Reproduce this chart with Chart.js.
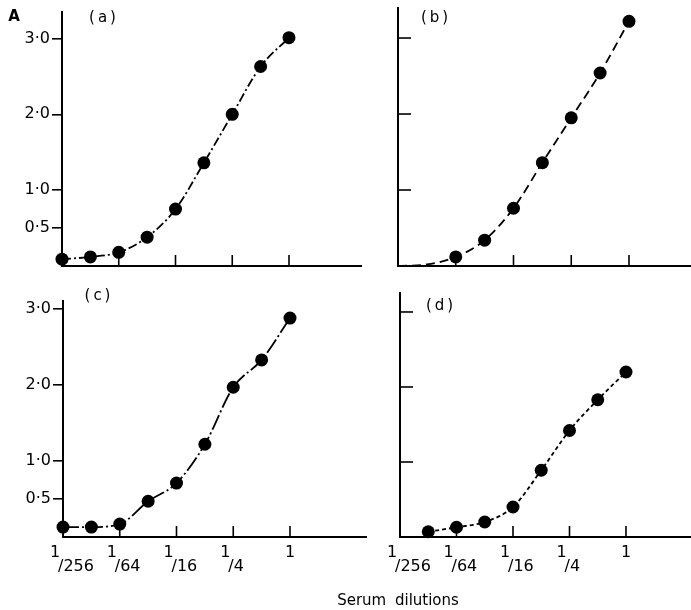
<!DOCTYPE html>
<html>
<head>
<meta charset="utf-8">
<script src="https://cdn.jsdelivr.net/npm/chart.js@4.4.1/dist/chart.umd.min.js"></script>
<style>
  html, body { margin:0; padding:0; background:#fff; }
  body { width:691px; height:610px; position:relative; overflow:hidden; font-family:"DejaVu Sans", sans-serif; color:#000; }
  canvas { position:absolute; }
  .lbl { position:absolute; font-size:15px; line-height:1; white-space:nowrap; transform:translate(-50%,-50%); }
</style>
</head>
<body>
<canvas id="pa" width="362" height="300" style="left:0;top:0"></canvas>
<canvas id="pb" width="346" height="300" style="left:345px;top:0"></canvas>
<canvas id="pc" width="367" height="310" style="left:0;top:280px"></canvas>
<canvas id="pd" width="346" height="310" style="left:345px;top:280px"></canvas>
<div class="lbl" style="left:14px;top:16px;font-weight:bold">A</div>
<div class="lbl" style="left:104px;top:17px;letter-spacing:3px">(a)</div>
<div class="lbl" style="left:436px;top:17px;letter-spacing:3px">(b)</div>
<div class="lbl" style="left:99px;top:295px;letter-spacing:3px">(c)</div>
<div class="lbl" style="left:441px;top:305px;letter-spacing:3px">(d)</div>
<div class="lbl" style="left:398px;top:600px;font-size:15px;word-spacing:4px">Serum dilutions</div>
<script>
// ---- data ----
const dilutions   = [1/256, 1/128, 1/64, 1/32, 1/16, 1/8, 1/4, 1/2, 1];
const xTickValues = [1/256, 1/64, 1/16, 1/4, 1];
const xTickLabels = ['1/256', '1/64', '1/16', '1/4', '1'];
const yTickValues = [0.5, 1, 2, 3];
const yTickLabels = ['0·5', '1·0', '2·0', '3·0'];
const yInnerTicks = [1, 2, 3];

const seriesA = [0.09, 0.12, 0.18, 0.38, 0.75, 1.36, 2.00, 2.63, 3.01];
const seriesB = [0.00, 0.02, 0.12, 0.34, 0.76, 1.36, 1.95, 2.54, 3.22];
const seriesC = [0.13, 0.13, 0.17, 0.47, 0.71, 1.22, 1.97, 2.33, 2.88];
const seriesD = [null, 0.07, 0.13, 0.20, 0.40, 0.89, 1.42, 1.83, 2.20];
// which values are plotted as dots (others only continue the curve)
const markedA = [true, true, true, true, true, true, true, true, true];
const markedB = [false, false, true, true, true, true, true, true, true];
const markedC = [true, true, true, true, true, true, true, true, true];
const markedD = [false, true, true, true, true, true, true, true, true];

const FONT = '"DejaVu Sans", sans-serif';

const inwardTicks = {
  id: 'inwardTicks',
  beforeDatasetsDraw(chart, args, opts) {
    const {ctx, scales: {x, y}} = chart;
    ctx.save();
    ctx.strokeStyle = '#000';
    ctx.lineWidth = 1.6;
    (opts.x || []).forEach(v => {
      const px = x.getPixelForValue(v);
      ctx.beginPath(); ctx.moveTo(px, y.bottom); ctx.lineTo(px, y.bottom - opts.xLen); ctx.stroke();
    });
    (opts.y || []).forEach(v => {
      const py = y.getPixelForValue(v);
      ctx.beginPath(); ctx.moveTo(x.left, py); ctx.lineTo(x.left + opts.yLen, py); ctx.stroke();
    });
    ctx.restore();
  }
};

function splitLabel(s) {
  const parts = s.split('/');
  if (parts.length === 1) return ['\u2002' + parts[0]];
  return [parts[0], '\u2002/' + parts[1]];
}

function makePanel(id, values, marked, dash, cfg) {
  const data = [], radii = [];
  dilutions.forEach((d, i) => {
    if (values[i] === null) return;
    data.push({x: d, y: values[i]});
    radii.push(marked[i] ? 6.5 : 0);
  });
  new Chart(document.getElementById(id), {
    type: 'line',
    data: { datasets: [{
      data,
      borderColor: '#000', backgroundColor: '#000',
      borderWidth: 1.8, borderDash: dash,
      pointRadius: radii, pointBorderWidth: 0, pointHoverRadius: 0,
      cubicInterpolationMode: 'monotone', clip: false
    }]},
    options: {
      responsive: false, animation: false, devicePixelRatio: 1, events: [],
      layout: { autoPadding: false, padding: { top: cfg.padTop, left: 0, right: 0, bottom: 0 } },
      plugins: {
        legend: { display: false }, tooltip: { enabled: false },
        inwardTicks: { x: cfg.xInner, y: cfg.yInner, xLen: 11, yLen: 13 }
      },
      scales: {
        x: {
          type: 'logarithmic', min: 1/256, max: cfg.xMax,
          afterBuildTicks: s => { s.ticks = xTickValues.map(v => ({value: v})); },
          afterFit: s => { s.height = cfg.xAxisH; },
          grid: { display: false },
          border: { display: true, color: '#000', width: 2 },
          ticks: {
            display: cfg.xLabels, align: 'start', labelOffset: -13, padding: 1,
            color: '#000', font: { family: FONT, size: 16, lineHeight: 0.85 },
            maxRotation: 0, autoSkip: false,
            callback: (v, i) => splitLabel(xTickLabels[i])
          }
        },
        y: {
          type: 'linear', min: 0, max: cfg.yMax,
          afterBuildTicks: s => { s.ticks = yTickValues.map(v => ({value: v})); },
          afterFit: s => { s.width = cfg.yAxisW; },
          grid: { display: cfg.yLabels, drawOnChartArea: false, drawTicks: true, tickLength: 10, color: '#000', lineWidth: 1.6 },
          border: { display: true, color: '#000', width: 2 },
          ticks: {
            display: cfg.yLabels, padding: 2, color: '#000',
            font: { family: FONT, size: 16 },
            callback: (v, i) => yTickLabels[i]
          }
        }
      }
    },
    plugins: [inwardTicks]
  });
}

makePanel('pa', seriesA, markedA, [9, 3, 2, 3], {
  padTop: 10, yAxisW: 62, xAxisH: 34, xMax: 5.95, yMax: 3.354,
  xLabels: false, yLabels: true, xInner: [1/64, 1/16, 1/4, 1], yInner: []
});
makePanel('pb', seriesB, markedB, [9, 5], {
  padTop: 8, yAxisW: 53, xAxisH: 34, xMax: 4.43, yMax: 3.395,
  xLabels: false, yLabels: false, xInner: [1/64, 1/16, 1/4, 1], yInner: yInnerTicks
});
makePanel('pc', seriesC, markedC, [16, 3, 2, 3], {
  padTop: 21, yAxisW: 63, xAxisH: 53, xMax: 6.56, yMax: 3.105,
  xLabels: true, yLabels: true, xInner: [1/64, 1/16, 1/4, 1], yInner: []
});
makePanel('pd', seriesD, markedD, [4, 3], {
  padTop: 13, yAxisW: 55, xAxisH: 53, xMax: 4.93, yMax: 3.253,
  xLabels: true, yLabels: false, xInner: [1/64, 1/16, 1/4, 1], yInner: yInnerTicks
});
</script>
</body>
</html>
